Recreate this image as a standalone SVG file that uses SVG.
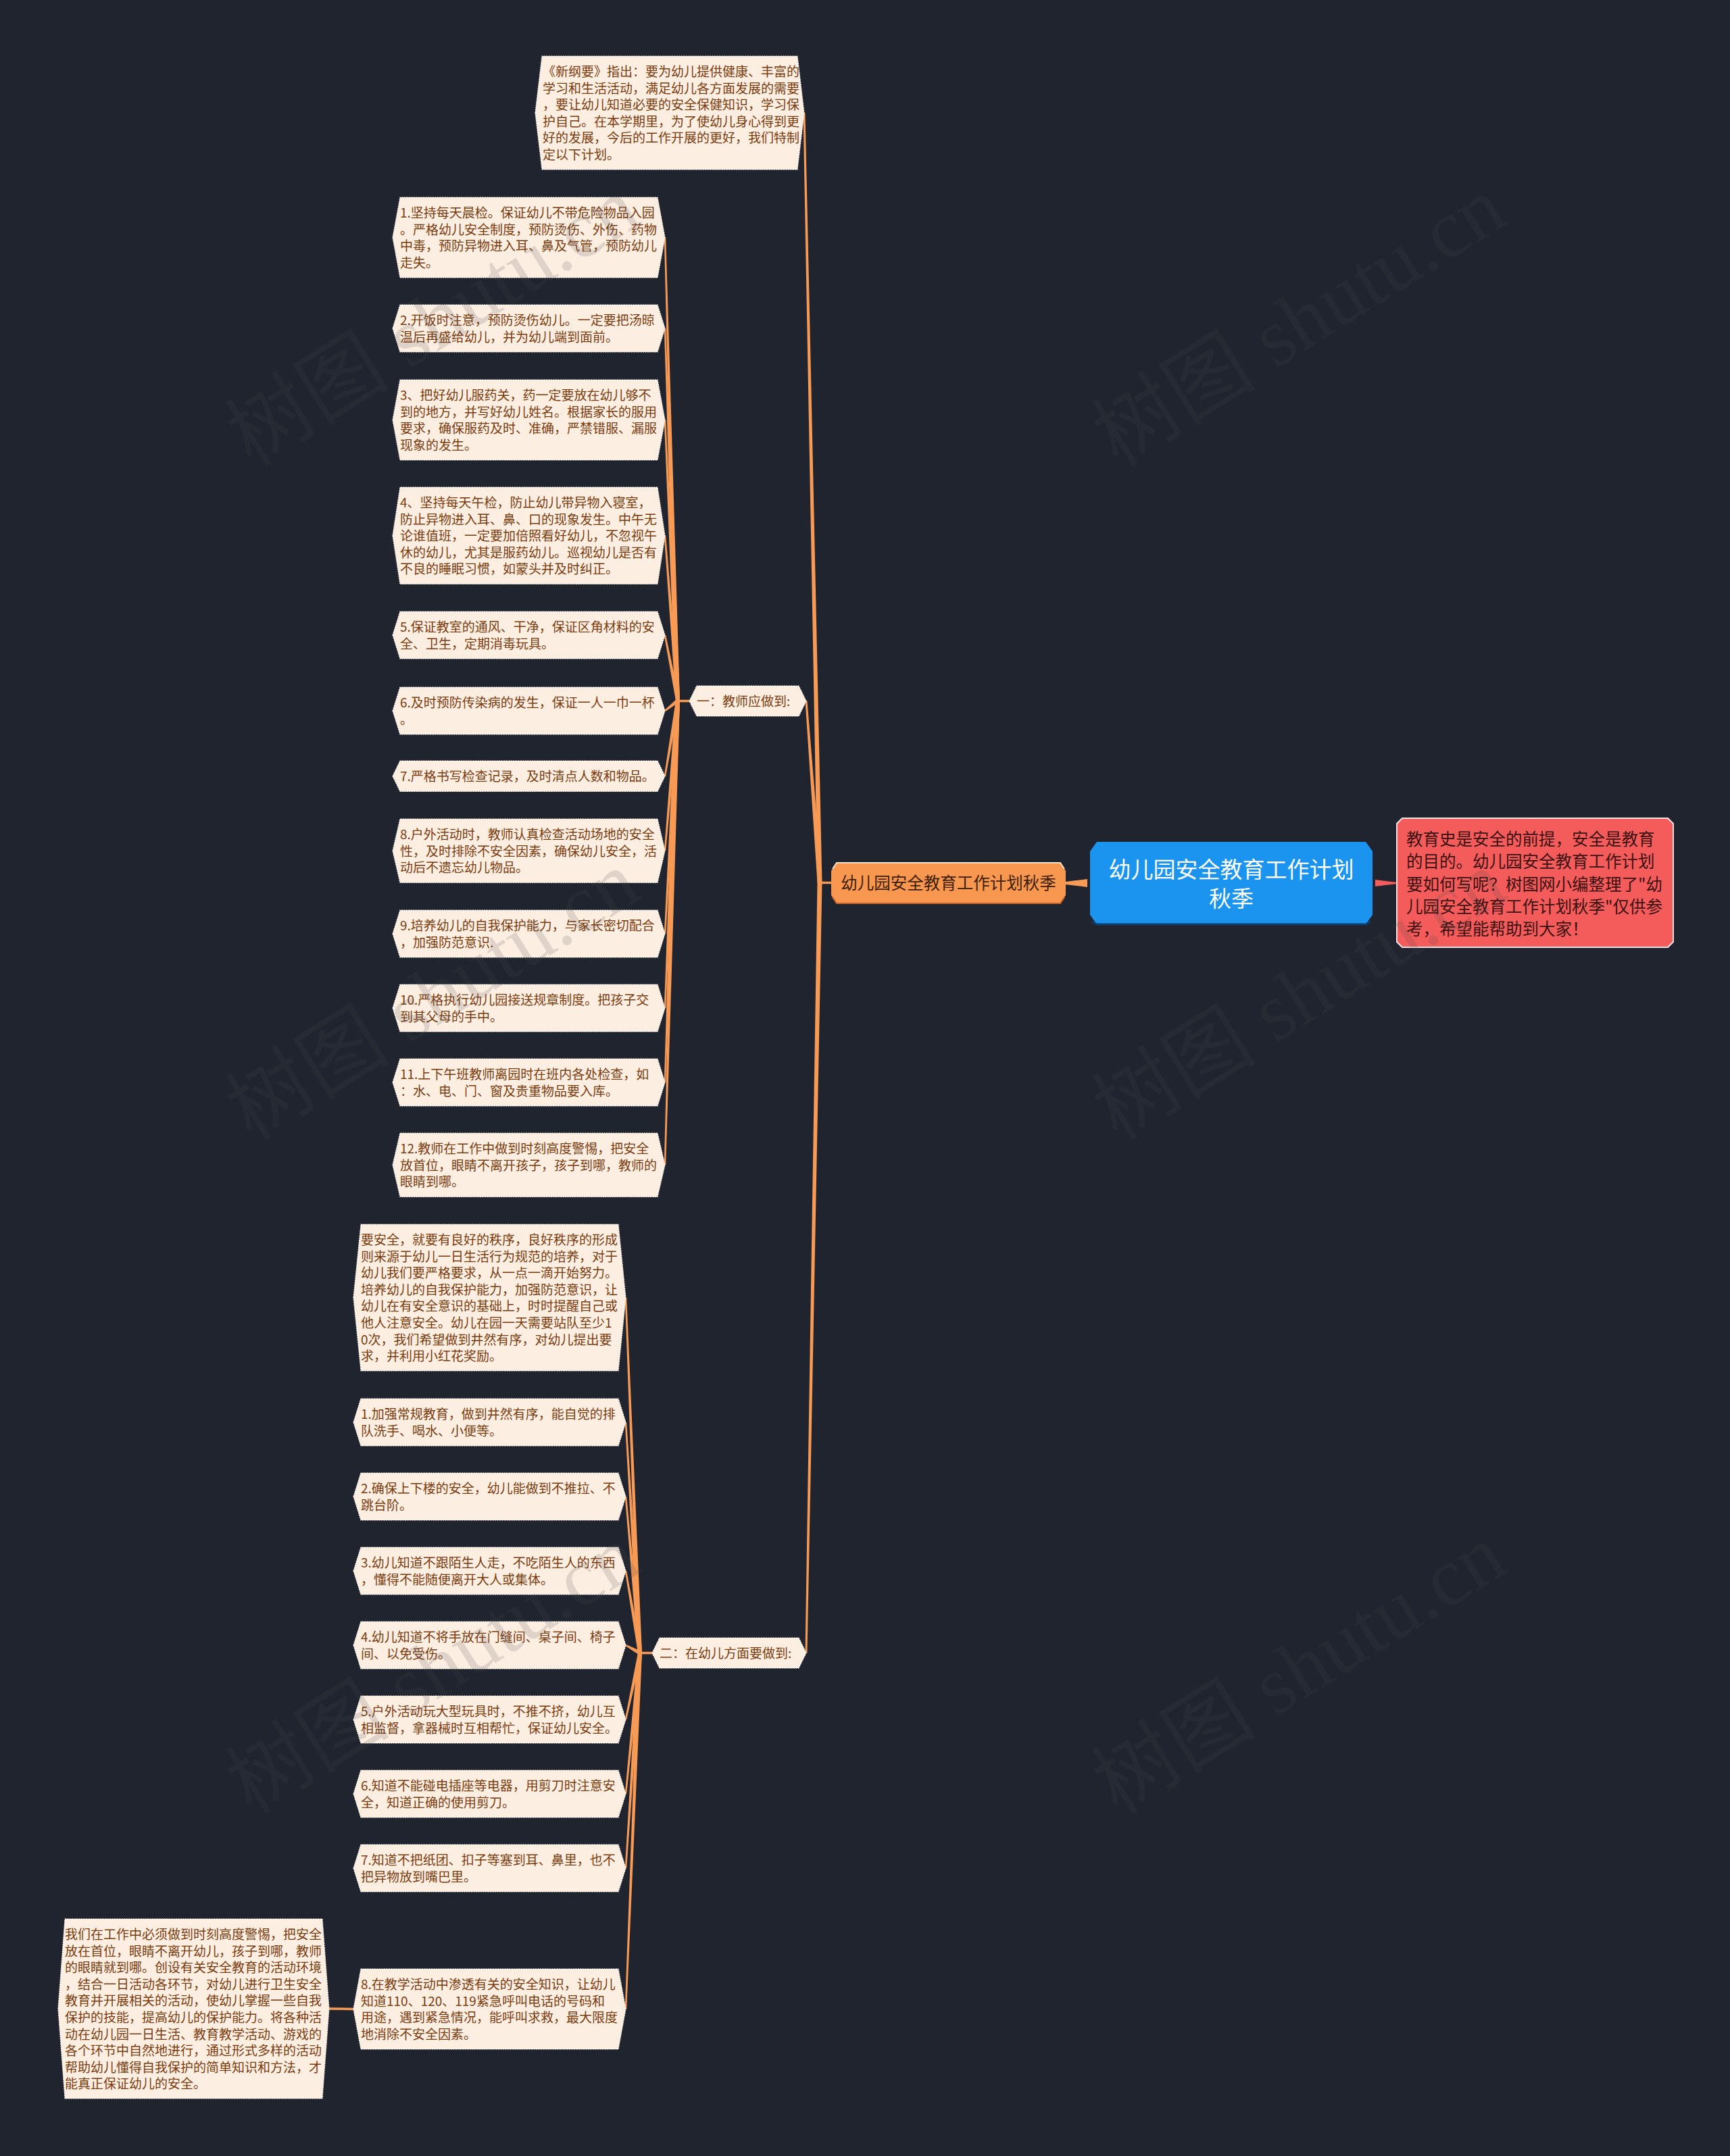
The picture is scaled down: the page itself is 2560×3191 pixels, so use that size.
<svg xmlns="http://www.w3.org/2000/svg" width="2560" height="3191" viewBox="0 0 2560 3191">
<style>
.n{fill:#fdeee2;stroke:#fffaf4;stroke-width:1.2;stroke-dasharray:2 1.5}
.t{font-family:"Noto Sans CJK SC","Noto Sans",sans-serif;font-size:19px;fill:#7a3b0e}
.c{fill:#f79a55}
.s{stroke:#f79a55;stroke-width:3.5;fill:none}
.wm{font-family:"Liberation Serif","Noto Sans CJK SC",serif;font-size:122px;fill:#4a4a4a;opacity:0.16}
</style>
<rect x="0" y="0" width="2560" height="3191" fill="#20242f"/>

<g id="connectors">
  <path class="c" d="M1609 1301 Q1594 1303 1576 1305 L1576 1309 Q1594 1311 1609 1313 Z"/>
  <path d="M2035 1302 Q2050 1304 2068 1306 L2068 1308 Q2050 1310 2035 1312 Z" fill="#f45b5b"/>
  <path class="s" d="M1212 1306.5 L1231 1306.5"/>
  <path class="c" d="M1209.5 1306 L1216.5 1306 L1191.5 167 L1188.5 167Z"/>
  <path class="c" d="M1209.5 1306 L1216.5 1306 L1194.5 1037.5 L1191.5 1037.5Z"/>
  <path class="c" d="M1209.5 1306 L1216.5 1306 L1194.5 2446.5 L1191.5 2446.5Z"/>
  <path class="s" d="M1002 1037.5 L1021 1037.5"/>
  <path class="c" d="M1000 1037 L1006 1037 L985.25 351.5 L982.75 351.5Z"/>
  <path class="c" d="M1000 1037 L1006 1037 L985.25 486 L982.75 486Z"/>
  <path class="c" d="M1000 1037 L1006 1037 L985.25 621.5 L982.75 621.5Z"/>
  <path class="c" d="M1000 1037 L1006 1037 L985.25 792.75 L982.75 792.75Z"/>
  <path class="c" d="M1005.94 1036.42 L985.23 939.76 L982.77 940.24 L1000.06 1037.58Z"/>
  <path class="c" d="M1001.14 1034.65 L983.23 1051.02 L984.78 1052.98 L1004.86 1039.36Z"/>
  <path class="c" d="M1000.04 1036.5 L982.77 1148.54 L985.23 1148.96 L1005.96 1037.5Z"/>
  <path class="c" d="M1000 1037 L1006 1037 L985.25 1259.25 L982.75 1259.25Z"/>
  <path class="c" d="M1000 1037 L1006 1037 L985.25 1382 L982.75 1382Z"/>
  <path class="c" d="M1000 1037 L1006 1037 L985.25 1492 L982.75 1492Z"/>
  <path class="c" d="M1000 1037 L1006 1037 L985.25 1602 L982.75 1602Z"/>
  <path class="c" d="M1000 1037 L1006 1037 L985.25 1724.25 L982.75 1724.25Z"/>
  <path class="s" d="M946 2446.5 L966 2446.5"/>
  <path class="c" d="M944 2446.5 L950 2446.5 L927.25 1920.5 L924.75 1920.5Z"/>
  <path class="c" d="M944 2446.5 L950 2446.5 L927.25 2105 L924.75 2105Z"/>
  <path class="c" d="M944 2446.5 L950 2446.5 L927.25 2215 L924.75 2215Z"/>
  <path class="c" d="M949.96 2445.99 L927.23 2324.79 L924.77 2325.21 L944.04 2447.01Z"/>
  <path class="c" d="M948.44 2443.87 L926.6 2433.9 L925.4 2436.1 L945.56 2449.13Z"/>
  <path class="c" d="M944.07 2445.87 L924.78 2544.74 L927.22 2545.26 L949.93 2447.13Z"/>
  <path class="c" d="M944 2446.5 L950 2446.5 L927.25 2655 L924.75 2655Z"/>
  <path class="c" d="M944 2446.5 L950 2446.5 L927.25 2765 L924.75 2765Z"/>
  <path class="c" d="M944 2446.5 L950 2446.5 L927.25 2973.5 L924.75 2973.5Z"/>
  <path class="s" d="M486 2973 L524 2973.5" stroke-width="3"/>
</g>

<g id="center">
  <polygon points="1623,1246 2021,1246 2031,1260 2031,1354 2021,1368 1623,1368 1613,1354 1613,1260" fill="#1a94ee"/>
  <path d="M1616 1364 L1623 1368 L2021 1368 L2028 1364" stroke="#0c3f72" stroke-width="3" fill="none"/>
  <text x="1822" y="1299" text-anchor="middle" style="font-family:'Noto Sans CJK SC',sans-serif;font-size:33px;fill:#ffffff">幼儿园安全教育工作计划</text>
  <text x="1822" y="1342" text-anchor="middle" style="font-family:'Noto Sans CJK SC',sans-serif;font-size:33px;fill:#ffffff">秋季</text>
</g>

<g id="summary">
  <polygon points="2075,1211 2468,1211 2476,1219 2476,1394 2468,1402 2075,1402 2067,1394 2067,1219" fill="#f45b5b" stroke="#fbe3e3" stroke-width="2"/>
  <text x="2081" y="1251" style="font-family:'Noto Sans CJK SC',sans-serif;font-size:24.5px;fill:#3b1212">
    <tspan x="2081">教育史是安全的前提，安全是教育</tspan>
    <tspan x="2081" dy="33.3">的目的。幼儿园安全教育工作计划</tspan>
    <tspan x="2081" dy="33.3">要如何写呢？树图网小编整理了&quot;幼</tspan>
    <tspan x="2081" dy="33.3">儿园安全教育工作计划秋季&quot;仅供参</tspan>
    <tspan x="2081" dy="33.3">考，希望能帮助到大家！</tspan>
  </text>
</g>

<g id="main-branch">
  <polygon points="1238,1277 1569,1277 1577,1289 1577,1325 1569,1337 1238,1337 1230,1325 1230,1289" fill="#f8974f"/>
  <path d="M1232 1286 L1238 1277 L1569 1277 L1575 1286" stroke="#ffe2cc" stroke-width="2" fill="none"/>
  <path d="M1232 1328 L1238 1337 L1569 1337 L1575 1328" stroke="#c9632a" stroke-width="2" fill="none"/>
  <text x="1403.5" y="1316" text-anchor="middle" style="font-family:'Noto Sans CJK SC',sans-serif;font-size:24.5px;fill:#3d1e08">幼儿园安全教育工作计划秋季</text>
</g>

<g id="intro">
  <polygon class="n" points="792,167 802,83 1180,83 1190,167 1180,251 802,251"/>
  <text class="t" x="803" y="113">
    <tspan x="803">《新纲要》指出：要为幼儿提供健康、丰富的</tspan>
    <tspan x="803" dy="24.6">学习和生活活动，满足幼儿各方面发展的需要</tspan>
    <tspan x="803" dy="24.6">，要让幼儿知道必要的安全保健知识，学习保</tspan>
    <tspan x="803" dy="24.6">护自己。在本学期里，为了使幼儿身心得到更</tspan>
    <tspan x="803" dy="24.6">好的发展，今后的工作开展的更好，我们特制</tspan>
    <tspan x="803" dy="24.6">定以下计划。</tspan>
  </text>
</g>

<g id="teacher">
  <polygon class="n" points="1020,1037.5 1031,1015 1182,1015 1193,1037.5 1182,1060 1031,1060"/>
  <text class="t" x="1031" y="1045">一：教师应做到:</text>
</g>

<g id="t1">
  <polygon class="n" points="581,351.5 592,292 973,292 984,351.5 973,411 592,411"/>
  <text class="t" x="592" y="322">
    <tspan x="592">1.坚持每天晨检。保证幼儿不带危险物品入园</tspan>
    <tspan x="592" dy="24.6">。严格幼儿安全制度，预防烫伤、外伤、药物</tspan>
    <tspan x="592" dy="24.6">中毒，预防异物进入耳、鼻及气管，预防幼儿</tspan>
    <tspan x="592" dy="24.6">走失。</tspan>
  </text>
</g>
<g id="t2">
  <polygon class="n" points="581,486 592,451 973,451 984,486 973,521 592,521"/>
  <text class="t" x="592" y="481">
    <tspan x="592">2.开饭时注意，预防烫伤幼儿。一定要把汤晾</tspan>
    <tspan x="592" dy="24.6">温后再盛给幼儿，并为幼儿端到面前。</tspan>
  </text>
</g>
<g id="t3">
  <polygon class="n" points="581,621.5 592,562 973,562 984,621.5 973,681 592,681"/>
  <text class="t" x="592" y="592">
    <tspan x="592">3、把好幼儿服药关，药一定要放在幼儿够不</tspan>
    <tspan x="592" dy="24.6">到的地方，并写好幼儿姓名。根据家长的服用</tspan>
    <tspan x="592" dy="24.6">要求，确保服药及时、准确，严禁错服、漏服</tspan>
    <tspan x="592" dy="24.6">现象的发生。</tspan>
  </text>
</g>
<g id="t4">
  <polygon class="n" points="581,792.75 592,721 973,721 984,792.75 973,864.5 592,864.5"/>
  <text class="t" x="592" y="751">
    <tspan x="592">4、坚持每天午检，防止幼儿带异物入寝室，</tspan>
    <tspan x="592" dy="24.6">防止异物进入耳、鼻、口的现象发生。中午无</tspan>
    <tspan x="592" dy="24.6">论谁值班，一定要加倍照看好幼儿，不忽视午</tspan>
    <tspan x="592" dy="24.6">休的幼儿，尤其是服药幼儿。巡视幼儿是否有</tspan>
    <tspan x="592" dy="24.6">不良的睡眠习惯，如蒙头并及时纠正。</tspan>
  </text>
</g>
<g id="t5">
  <polygon class="n" points="581,940 592,905 973,905 984,940 973,975 592,975"/>
  <text class="t" x="592" y="935">
    <tspan x="592">5.保证教室的通风、干净，保证区角材料的安</tspan>
    <tspan x="592" dy="24.6">全、卫生，定期消毒玩具。</tspan>
  </text>
</g>
<g id="t6">
  <polygon class="n" points="581,1052 592,1017 973,1017 984,1052 973,1087 592,1087"/>
  <text class="t" x="592" y="1047">
    <tspan x="592">6.及时预防传染病的发生，保证一人一巾一杯</tspan>
    <tspan x="592" dy="24.6">。</tspan>
  </text>
</g>
<g id="t7">
  <polygon class="n" points="581,1148.75 592,1126 973,1126 984,1148.75 973,1171.5 592,1171.5"/>
  <text class="t" x="592" y="1156">7.严格书写检查记录，及时清点人数和物品。</text>
</g>
<g id="t8">
  <polygon class="n" points="581,1259.25 592,1212 973,1212 984,1259.25 973,1306.5 592,1306.5"/>
  <text class="t" x="592" y="1242">
    <tspan x="592">8.户外活动时，教师认真检查活动场地的安全</tspan>
    <tspan x="592" dy="24.6">性，及时排除不安全因素，确保幼儿安全，活</tspan>
    <tspan x="592" dy="24.6">动后不遗忘幼儿物品。</tspan>
  </text>
</g>
<g id="t9">
  <polygon class="n" points="581,1382 592,1347 973,1347 984,1382 973,1417 592,1417"/>
  <text class="t" x="592" y="1377">
    <tspan x="592">9.培养幼儿的自我保护能力，与家长密切配合</tspan>
    <tspan x="592" dy="24.6">，加强防范意识.</tspan>
  </text>
</g>
<g id="t10">
  <polygon class="n" points="581,1492 592,1457 973,1457 984,1492 973,1527 592,1527"/>
  <text class="t" x="592" y="1487">
    <tspan x="592">10.严格执行幼儿园接送规章制度。把孩子交</tspan>
    <tspan x="592" dy="24.6">到其父母的手中。</tspan>
  </text>
</g>
<g id="t11">
  <polygon class="n" points="581,1602 592,1567 973,1567 984,1602 973,1637 592,1637"/>
  <text class="t" x="592" y="1597">
    <tspan x="592">11.上下午班教师离园时在班内各处检查，如</tspan>
    <tspan x="592" dy="24.6">：水、电、门、窗及贵重物品要入库。</tspan>
  </text>
</g>
<g id="t12">
  <polygon class="n" points="581,1724.25 592,1677 973,1677 984,1724.25 973,1771.5 592,1771.5"/>
  <text class="t" x="592" y="1707">
    <tspan x="592">12.教师在工作中做到时刻高度警惕，把安全</tspan>
    <tspan x="592" dy="24.6">放首位，眼睛不离开孩子，孩子到哪，教师的</tspan>
    <tspan x="592" dy="24.6">眼睛到哪。</tspan>
  </text>
</g>

<g id="children">
  <polygon class="n" points="965,2446.5 976,2424 1182,2424 1193,2446.5 1182,2469 976,2469"/>
  <text class="t" x="976" y="2454">二：在幼儿方面要做到:</text>
</g>

<g id="c0">
  <polygon class="n" points="523,1920.5 534,1812 915,1812 926,1920.5 915,2029 534,2029"/>
  <text class="t" x="534" y="1842">
    <tspan x="534">要安全，就要有良好的秩序，良好秩序的形成</tspan>
    <tspan x="534" dy="24.6">则来源于幼儿一日生活行为规范的培养，对于</tspan>
    <tspan x="534" dy="24.6">幼儿我们要严格要求，从一点一滴开始努力。</tspan>
    <tspan x="534" dy="24.6">培养幼儿的自我保护能力，加强防范意识，让</tspan>
    <tspan x="534" dy="24.6">幼儿在有安全意识的基础上，时时提醒自己或</tspan>
    <tspan x="534" dy="24.6">他人注意安全。幼儿在园一天需要站队至少1</tspan>
    <tspan x="534" dy="24.6">0次，我们希望做到井然有序，对幼儿提出要</tspan>
    <tspan x="534" dy="24.6">求，并利用小红花奖励。</tspan>
  </text>
</g>
<g id="c1">
  <polygon class="n" points="523,2105 534,2070 915,2070 926,2105 915,2140 534,2140"/>
  <text class="t" x="534" y="2100">
    <tspan x="534">1.加强常规教育，做到井然有序，能自觉的排</tspan>
    <tspan x="534" dy="24.6">队洗手、喝水、小便等。</tspan>
  </text>
</g>
<g id="c2">
  <polygon class="n" points="523,2215 534,2180 915,2180 926,2215 915,2250 534,2250"/>
  <text class="t" x="534" y="2210">
    <tspan x="534">2.确保上下楼的安全，幼儿能做到不推拉、不</tspan>
    <tspan x="534" dy="24.6">跳台阶。</tspan>
  </text>
</g>
<g id="c3">
  <polygon class="n" points="523,2325 534,2290 915,2290 926,2325 915,2360 534,2360"/>
  <text class="t" x="534" y="2320">
    <tspan x="534">3.幼儿知道不跟陌生人走，不吃陌生人的东西</tspan>
    <tspan x="534" dy="24.6">，懂得不能随便离开大人或集体。</tspan>
  </text>
</g>
<g id="c4">
  <polygon class="n" points="523,2435 534,2400 915,2400 926,2435 915,2470 534,2470"/>
  <text class="t" x="534" y="2430">
    <tspan x="534">4.幼儿知道不将手放在门缝间、桌子间、椅子</tspan>
    <tspan x="534" dy="24.6">间、以免受伤。</tspan>
  </text>
</g>
<g id="c5">
  <polygon class="n" points="523,2545 534,2510 915,2510 926,2545 915,2580 534,2580"/>
  <text class="t" x="534" y="2540">
    <tspan x="534">5.户外活动玩大型玩具时，不推不挤，幼儿互</tspan>
    <tspan x="534" dy="24.6">相监督，拿器械时互相帮忙，保证幼儿安全。</tspan>
  </text>
</g>
<g id="c6">
  <polygon class="n" points="523,2655 534,2620 915,2620 926,2655 915,2690 534,2690"/>
  <text class="t" x="534" y="2650">
    <tspan x="534">6.知道不能碰电插座等电器，用剪刀时注意安</tspan>
    <tspan x="534" dy="24.6">全，知道正确的使用剪刀。</tspan>
  </text>
</g>
<g id="c7">
  <polygon class="n" points="523,2765 534,2730 915,2730 926,2765 915,2800 534,2800"/>
  <text class="t" x="534" y="2760">
    <tspan x="534">7.知道不把纸团、扣子等塞到耳、鼻里，也不</tspan>
    <tspan x="534" dy="24.6">把异物放到嘴巴里。</tspan>
  </text>
</g>
<g id="c8">
  <polygon class="n" points="523,2973.5 534,2914 915,2914 926,2973.5 915,3033 534,3033"/>
  <text class="t" x="534" y="2944">
    <tspan x="534">8.在教学活动中渗透有关的安全知识，让幼儿</tspan>
    <tspan x="534" dy="24.6">知道110、120、119紧急呼叫电话的号码和</tspan>
    <tspan x="534" dy="24.6">用途，遇到紧急情况，能呼叫求救，最大限度</tspan>
    <tspan x="534" dy="24.6">地消除不安全因素。</tspan>
  </text>
</g>
<g id="c8-note">
  <polygon class="n" points="86,2973 96,2840 477,2840 487,2973 477,3106 96,3106"/>
  <text class="t" x="96" y="2870">
    <tspan x="96">我们在工作中必须做到时刻高度警惕，把安全</tspan>
    <tspan x="96" dy="24.6">放在首位，眼睛不离开幼儿，孩子到哪，教师</tspan>
    <tspan x="96" dy="24.6">的眼睛就到哪。创设有关安全教育的活动环境</tspan>
    <tspan x="96" dy="24.6">，结合一日活动各环节，对幼儿进行卫生安全</tspan>
    <tspan x="96" dy="24.6">教育并开展相关的活动，使幼儿掌握一些自我</tspan>
    <tspan x="96" dy="24.6">保护的技能，提高幼儿的保护能力。将各种活</tspan>
    <tspan x="96" dy="24.6">动在幼儿园一日生活、教育教学活动、游戏的</tspan>
    <tspan x="96" dy="24.6">各个环节中自然地进行，通过形式多样的活动</tspan>
    <tspan x="96" dy="24.6">帮助幼儿懂得自我保护的简单知识和方法，才</tspan>
    <tspan x="96" dy="24.6">能真正保证幼儿的安全。</tspan>
  </text>
</g>

<g id="watermarks">
  <text class="wm" transform="translate(372,692) rotate(-32)">树图 shutu.cn</text>
  <text class="wm" transform="translate(1654,692) rotate(-32)">树图 shutu.cn</text>
  <text class="wm" transform="translate(372,1690) rotate(-32)">树图 shutu.cn</text>
  <text class="wm" transform="translate(1654,1690) rotate(-32)">树图 shutu.cn</text>
  <text class="wm" transform="translate(372,2687) rotate(-32)">树图 shutu.cn</text>
  <text class="wm" transform="translate(1654,2687) rotate(-32)">树图 shutu.cn</text>
</g>
</svg>
